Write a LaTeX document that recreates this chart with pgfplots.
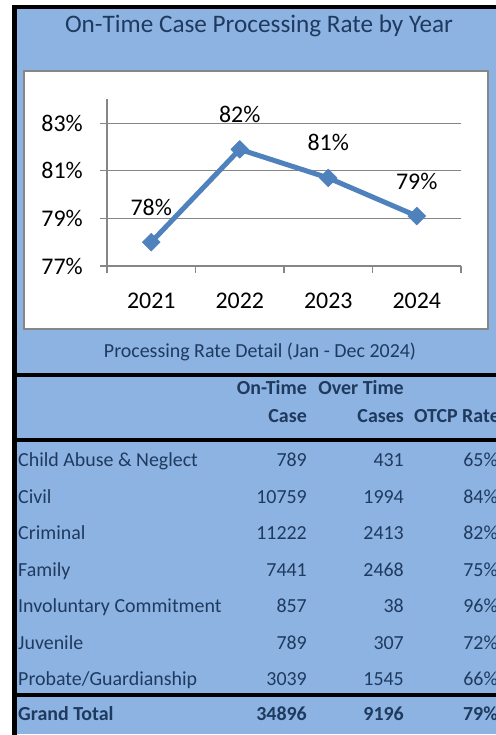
\documentclass[border=0pt]{standalone}
\usepackage{fontspec}
\setmainfont{Carlito}
\usepackage{pgfplots}
\pgfplotsset{compat=1.18}
\definecolor{bluebg}{HTML}{8DB3E2}
\definecolor{txt}{HTML}{1F3A5F}
\definecolor{ser}{HTML}{4F81BD}
\definecolor{gridc}{HTML}{868686}
\newcommand\PG{Probate/Guardianship}
\begin{document}
\begin{tikzpicture}[x=1bp,y=1bp]
\path[use as bounding box] (0,0) rectangle (496,735);
\clip (0,0) rectangle (496,735);
\fill[white] (0,0) rectangle (496,735);
\fill[bluebg] (17,1) rectangle (496,735-9);
\fill[black] (12,0) rectangle (17,735-5);
\fill[black] (12,735-9) rectangle (496,735-5);
\fill[black] (12,735-377) rectangle (496,735-373);
\fill[black] (12,735-442) rectangle (496,735-438);
\fill[black] (12,735-697) rectangle (496,735-693);
\filldraw[fill=white, draw=gridc, line width=1.5] (24,735-329) rectangle (488,735-71);
\node[anchor=base, text=txt, font=\fontsize{25.3}{30}\selectfont, inner sep=0pt] at (259,735-33) {On-Time Case Processing Rate by Year};
\node[anchor=base, text=txt, font=\fontsize{20}{24}\selectfont, inner sep=0pt] at (260,735-358) {Processing Rate Detail (Jan - Dec 2024)};
\coordinate (axpos) at (107,469);
\begin{axis}[
  at={(axpos)}, anchor=south west,
  scale only axis, width=354bp, height=166.6bp,
  xmin=0.5, xmax=4.5, ymin=77, ymax=84,
  axis lines*=left,
  axis line style={draw=gridc, line width=1.2bp},
  /pgf/number format/assume math mode=true,
  ytick={77,79,81,83},
  yticklabel={\pgfmathprintnumber{\tick}\%},
  ymajorgrids,
  grid style={draw=gridc, line width=1.2bp},
  xtick={1,2,3,4},
  xticklabels={2021,2022,2023,2024},
  minor xtick={0.5,1.5,2.5,3.5,4.5},
  major x tick style={draw=none},
  tick style={draw=gridc, line width=1.2bp},
  tick align=outside,
  major tick length=7bp, minor tick length=7bp,
  ticklabel style={font=\fontsize{24}{28}\selectfont, inner sep=0pt},
  yticklabel style={anchor=east, xshift=-17bp},
  xticklabel style={anchor=base, yshift=-36bp},
  clip=false,
  nodes near coords={\pgfmathprintnumber[fixed,precision=0]{\pgfplotspointmeta}\%},
  every node near coord/.append style={anchor=base, inner sep=0pt, yshift=27bp, font=\fontsize{24}{28}\selectfont, text=black},
]
\addplot[color=ser, line width=5bp, line join=round, mark=square*, mark size=6.3bp, mark options={rotate=45, fill=ser, draw=ser, line width=0.5bp}]
  coordinates {(1,78.0) (2,81.9) (3,80.7) (4,79.1)};
\end{axis}
\begin{scope}[every node/.style={inner sep=0pt, text=txt, font=\fontsize{20}{24}\selectfont}]
\node[anchor=base east, font=\fontsize{20}{24}\selectfont\bfseries] at (307,735-395) {On-Time};
\node[anchor=base east, font=\fontsize{20}{24}\selectfont\bfseries] at (404,735-395) {Over Time};
\node[anchor=base east, font=\fontsize{20}{24}\selectfont\bfseries] at (307,735-423) {Case};
\node[anchor=base east, font=\fontsize{20}{24}\selectfont\bfseries] at (404,735-423) {Cases};
\node[anchor=base east, font=\fontsize{20}{24}\selectfont\bfseries] at (500,735-423) {OTCP Rate};
\foreach \n/\a/\b/\c [count=\i from 0] in {Child Abuse \& Neglect/789/431/65,Civil/10759/1994/84,Criminal/11222/2413/82,Family/7441/2468/75,Involuntary Commitment/857/38/96,Juvenile/789/307/72,\PG/3039/1545/66}{
  \node[anchor=base west] at (18,735-467-36.5*\i) {\n};
  \node[anchor=base east] at (307,735-467-36.5*\i) {\a};
  \node[anchor=base east] at (404,735-467-36.5*\i) {\b};
  \node[anchor=base east] at (498,735-467-36.5*\i) {\c\%};
}
\node[anchor=base west, font=\fontsize{20}{24}\selectfont\bfseries] at (18,735-721) {Grand Total};
\node[anchor=base east, font=\fontsize{20}{24}\selectfont\bfseries] at (307,735-721) {34896};
\node[anchor=base east, font=\fontsize{20}{24}\selectfont\bfseries] at (404,735-721) {9196};
\node[anchor=base east, font=\fontsize{20}{24}\selectfont\bfseries] at (498,735-721) {79\%};
\end{scope}
\end{tikzpicture}
\end{document}
